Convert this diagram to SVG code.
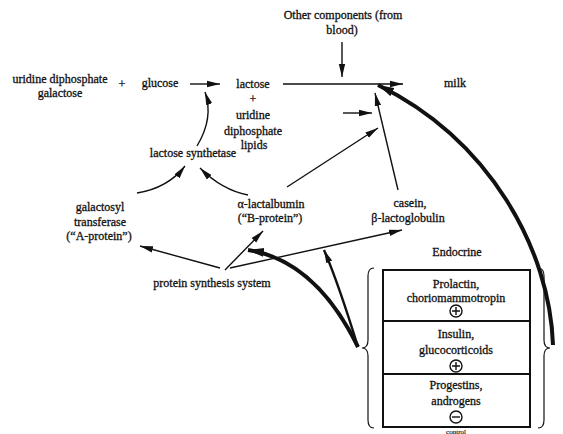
<svg xmlns="http://www.w3.org/2000/svg" width="563" height="434" viewBox="0 0 563 434">
<defs>
<style>
text{font-family:"Liberation Serif","Times New Roman",serif;font-size:12px;fill:#111;stroke:#111;stroke-width:0.3;text-anchor:middle;}
.c{fill:none;stroke:#111;stroke-width:1.4;}
.t{fill:none;stroke:#111;stroke-width:4;}
.m{fill:none;stroke:#111;stroke-width:2.4;}
.b{fill:none;stroke:#111;stroke-width:1.2;}
</style>
<marker id="a" markerUnits="userSpaceOnUse" markerWidth="14" markerHeight="8" refX="13" refY="4" orient="auto"><path d="M0,0.8 L13,4 L0,7.2 z" fill="#111"/></marker>
<marker id="ab" markerUnits="userSpaceOnUse" markerWidth="18" markerHeight="10" refX="16" refY="5" orient="auto"><path d="M0,0.5 L16,5 L0,9.5 z" fill="#111"/></marker>
</defs>
<rect width="563" height="434" fill="#fff"/>
<g id="other"><text x="343" y="19">Other components (from</text><text x="342" y="34">blood)</text></g>
<g id="udpgal"><text x="60" y="83">uridine diphosphate</text><text x="60" y="97">galactose</text></g>
<g id="plus1"><text x="122" y="88">+</text></g>
<g id="glucose"><text x="160" y="87">glucose</text></g>
<g id="lactose"><text x="253" y="88">lactose</text><text x="253" y="103">+</text><text x="253" y="119">uridine</text><text x="253" y="135">diphosphate</text><text x="254" y="149">lipids</text></g>
<g id="milk"><text x="455" y="87">milk</text></g>
<g id="synthetase"><text x="193" y="157">lactose synthetase</text></g>
<g id="galactosyl"><text x="100" y="211">galactosyl</text><text x="100" y="226">transferase</text><text x="99" y="240">(“A-protein”)</text></g>
<g id="lactalbumin"><text x="271" y="208">α-lactalbumin</text><text x="270" y="222">(“B-protein”)</text></g>
<g id="casein"><text x="410" y="207">casein,</text><text x="408" y="222">β-lactoglobulin</text></g>
<g id="psys"><text x="212" y="287">protein synthesis system</text></g>
<g id="endocrine"><text x="457" y="256">Endocrine</text>
<rect x="383" y="270" width="147" height="157" fill="none" stroke="#111" stroke-width="2"/>
<line x1="383" y1="321" x2="530" y2="321" stroke="#111" stroke-width="2"/>
<line x1="383" y1="374" x2="530" y2="374" stroke="#111" stroke-width="2"/>
<path class="b" d="M374,268 Q368,268 368,276 L368,340 Q368,348 362,348 Q368,348 368,356 L368,420 Q368,428 374,428"/>
<path class="b" d="M538,268 Q544,268 544,276 L544,340 Q544,348 550,348 Q544,348 544,356 L544,420 Q544,428 538,428"/>
</g>
<g id="prolactin"><text x="456" y="288">Prolactin,</text><text x="456" y="302">choriomammotropin</text>
<circle cx="456" cy="311" r="6" fill="none" stroke="#111" stroke-width="1.4"/><path d="M452,311 H460 M456,307 V315" stroke="#111" stroke-width="1.4"/></g>
<g id="insulin"><text x="456" y="338">Insulin,</text><text x="456" y="354">glucocorticoids</text>
<circle cx="456" cy="366" r="6" fill="none" stroke="#111" stroke-width="1.4"/><path d="M452,366 H460 M456,362 V370" stroke="#111" stroke-width="1.4"/></g>
<g id="progestins"><text x="456" y="389">Progestins,</text><text x="456" y="405">androgens</text>
<circle cx="456" cy="417" r="6" fill="none" stroke="#111" stroke-width="1.4"/><path d="M452,417 H460" stroke="#111" stroke-width="1.4"/></g>
<g id="control"><text x="456" y="433.5" style="font-size:7px;stroke-width:0.15">control</text></g>
<g id="connectors">
<line class="c" x1="342" y1="42" x2="342" y2="77" marker-end="url(#a)"/>
<line class="c" x1="283" y1="84" x2="403" y2="84" marker-end="url(#a)"/>
<line class="c" x1="190" y1="84" x2="220" y2="84" marker-end="url(#a)"/>
<path class="c" d="M197,146 Q214,118 205,92" marker-end="url(#a)"/>
<path class="c" d="M137,193 Q168,188 185,166" marker-end="url(#a)"/>
<path class="c" d="M248,195 Q222,190 200,168" marker-end="url(#a)"/>
<line class="c" x1="343" y1="113" x2="372" y2="113" marker-end="url(#a)"/>
<line class="c" x1="287" y1="187" x2="378" y2="128" marker-end="url(#a)"/>
<line class="c" x1="398" y1="190" x2="375" y2="93" marker-end="url(#a)"/>
<line class="c" x1="220" y1="268" x2="140" y2="246" marker-end="url(#a)"/>
<line class="c" x1="225" y1="270" x2="263" y2="231" marker-end="url(#a)"/>
<line class="c" x1="230" y1="268" x2="402" y2="230" marker-end="url(#a)"/>
<path class="t" d="M358,347 C335,300 300,258 248,250" marker-end="url(#ab)"/>
<path class="m" d="M358,347 C345,305 335,275 324,250" marker-end="url(#a)"/>
<path class="t" d="M553,345 C550,250 490,140 378,85" marker-end="url(#ab)"/>
</g>
</svg>
